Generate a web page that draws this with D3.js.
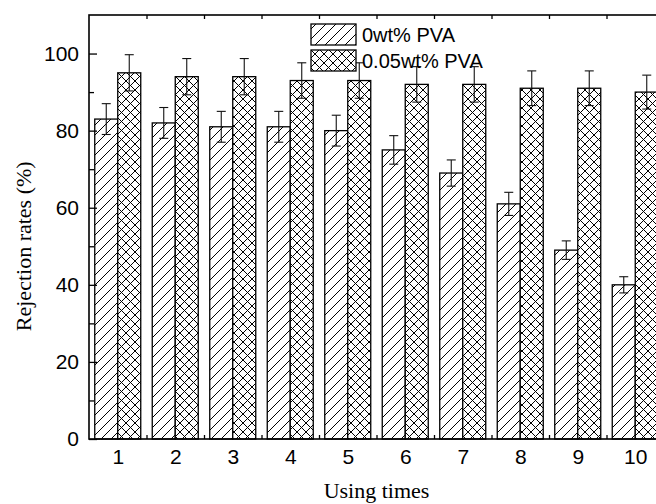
<!DOCTYPE html>
<html>
<head>
<meta charset="utf-8">
<script src="https://cdn.jsdelivr.net/npm/d3@7"></script>
<style>
  body { margin: 0; background: #fff; }
</style>
</head>
<body>
<div id="canvas"></div>
<script>
"use strict"

/* data */
let usingTimes = [1, 2, 3, 4, 5, 6, 7, 8, 9, 10];
let pva0 = [83, 82, 81, 81, 80, 75, 69, 61, 49, 40];
let pva0Err = [4, 4, 4, 4, 4, 3.7, 3.4, 3, 2.4, 2.1];
let pva005 = [95, 94, 94, 93, 93, 92, 92, 91, 91, 90];
let pva005Err = [4.7, 4.7, 4.7, 4.6, 4.6, 4.6, 4.6, 4.5, 4.5, 4.4];
let seriesNames = ["0wt% PVA", "0.05wt% PVA"];
let yTicks = [0, 20, 40, 60, 80, 100];

/* drawing config */
let svgWidth = 656;
let svgHeight = 504;
let plotLeft = 89;
let plotRight = 664;   // the frame runs past the window edge
let plotTop = 15;
let plotBottom = 439;
let barWidth = 23;

let svg = d3.select("#canvas")
    .append("svg")
    .attr("width", svgWidth)
    .attr("height", svgHeight);

svg.append("rect")
    .attr("width", svgWidth)
    .attr("height", svgHeight)
    .attr("fill", "white");

/* hatch patterns */
let defs = svg.append("defs");

let hatch = defs.append("pattern")
    .attr("id", "hatch")
    .attr("patternUnits", "userSpaceOnUse")
    .attr("width", 10)
    .attr("height", 10);
hatch.append("rect").attr("width", 10).attr("height", 10).attr("fill", "white");
hatch.append("path")
    .attr("d", "M-1,1 l2,-2 M0,10 l10,-10 M9,11 l2,-2")
    .attr("stroke", "black")
    .attr("stroke-width", 1)
    .attr("shape-rendering", "crispEdges");

let cross = defs.append("pattern")
    .attr("id", "cross")
    .attr("patternUnits", "userSpaceOnUse")
    .attr("width", 9)
    .attr("height", 9);
cross.append("rect").attr("width", 9).attr("height", 9).attr("fill", "white");
cross.append("path")
    .attr("d", "M-1,1 l2,-2 M0,9 l9,-9 M8,10 l2,-2 M-1,8 l2,2 M0,0 l9,9 M8,-1 l2,2")
    .attr("stroke", "black")
    .attr("stroke-width", 1)
    .attr("shape-rendering", "crispEdges");

/* scales */
let xScale = d3.scaleLinear()
    .domain([0.5, 10.5])
    .range([plotLeft, plotRight]);

let yScale = d3.scaleLinear()
    .domain([0, 110])
    .range([plotBottom, plotTop]);

let data = usingTimes.map(function(t, i) {
    return { t: t, a: pva0[i], aErr: pva0Err[i], b: pva005[i], bErr: pva005Err[i] };
});

/* bars */
svg.selectAll("rect.barA")
    .data(data)
    .join("rect")
    .attr("class", "barA")
    .attr("x", d => xScale(d.t) - barWidth)
    .attr("y", d => yScale(d.a))
    .attr("width", barWidth)
    .attr("height", d => yScale(0) - yScale(d.a))
    .attr("fill", "url(#hatch)")
    .attr("stroke", "black")
    .attr("stroke-width", 1.3);

svg.selectAll("rect.barB")
    .data(data)
    .join("rect")
    .attr("class", "barB")
    .attr("x", d => xScale(d.t))
    .attr("y", d => yScale(d.b))
    .attr("width", barWidth)
    .attr("height", d => yScale(0) - yScale(d.b))
    .attr("fill", "url(#cross)")
    .attr("stroke", "black")
    .attr("stroke-width", 1.3);

/* error bars */
function errorBars(key, errKey, offset) {
    let g = svg.append("g")
        .attr("stroke", "#111")
        .attr("stroke-width", 1.1);
    data.forEach(function(d) {
        let cx = xScale(d.t) + offset;
        let hi = yScale(d[key] + d[errKey]);
        let lo = yScale(d[key] - d[errKey]);
        g.append("line").attr("x1", cx).attr("x2", cx).attr("y1", hi).attr("y2", lo);
        g.append("line").attr("x1", cx - 4.5).attr("x2", cx + 4.5).attr("y1", hi).attr("y2", hi);
        g.append("line").attr("x1", cx - 4.5).attr("x2", cx + 4.5).attr("y1", lo).attr("y2", lo);
    });
}
errorBars("a", "aErr", -barWidth / 2);
errorBars("b", "bErr", barWidth / 2);

/* axes */
let halfTicks = d3.range(1.5, 10.5, 1);

// left axis: minor ticks pointing in
svg.append("g")
    .attr("transform", "translate(" + plotLeft + ",0)")
    .call(d3.axisLeft(yScale).tickValues(d3.range(10, 110, 20)).tickSize(-5).tickFormat(""))
    .call(g => g.select(".domain").remove())
    .call(g => g.selectAll("line").attr("stroke-width", 1.3));

let yAxis = svg.append("g")
    .attr("transform", "translate(" + plotLeft + ",0)")
    .call(d3.axisLeft(yScale).tickValues(yTicks).tickSize(-8).tickPadding(10))
    .call(g => g.select(".domain").remove());
yAxis.selectAll("line").attr("stroke-width", 1.3);
yAxis.selectAll("text")
    .attr("font-family", "Liberation Sans, Arial, sans-serif")
    .attr("font-size", 21)
    .attr("fill", "black");

// bottom axis
svg.append("g")
    .attr("transform", "translate(0," + plotBottom + ")")
    .call(d3.axisBottom(xScale).tickValues(halfTicks).tickSize(-4).tickFormat(""))
    .call(g => g.select(".domain").remove())
    .call(g => g.selectAll("line").attr("stroke-width", 1.3));

let xAxis = svg.append("g")
    .attr("transform", "translate(0," + plotBottom + ")")
    .call(d3.axisBottom(xScale).tickValues(usingTimes).tickSize(0).tickPadding(10).tickFormat(d3.format("d")))
    .call(g => g.select(".domain").remove());
xAxis.selectAll("text")
    .attr("font-family", "Liberation Sans, Arial, sans-serif")
    .attr("font-size", 21)
    .attr("fill", "black");

// top axis (mirror ticks)
svg.append("g")
    .attr("transform", "translate(0," + plotTop + ")")
    .call(d3.axisTop(xScale).tickValues(halfTicks).tickSize(-4).tickFormat(""))
    .call(g => g.select(".domain").remove())
    .call(g => g.selectAll("line").attr("stroke-width", 1.3));

/* frame */
svg.append("rect")
    .attr("x", plotLeft)
    .attr("y", plotTop)
    .attr("width", plotRight - plotLeft)
    .attr("height", plotBottom - plotTop)
    .attr("fill", "none")
    .attr("stroke", "black")
    .attr("stroke-width", 1.6);

/* axis titles */
svg.append("text")
    .attr("x", xScale(5.5))
    .attr("y", 498)
    .attr("text-anchor", "middle")
    .attr("font-family", "Liberation Serif, Times New Roman, serif")
    .attr("font-size", 22)
    .text("Using times");

svg.append("text")
    .attr("transform", "translate(31," + yScale(50) + ") rotate(-90)")
    .attr("text-anchor", "middle")
    .attr("font-family", "Liberation Serif, Times New Roman, serif")
    .attr("font-size", 22)
    .text("Rejection rates (%)");

/* legend */
let legend = [
    { label: seriesNames[0], fill: "url(#hatch)" },
    { label: seriesNames[1], fill: "url(#cross)" }
];

legend.forEach(function(d, i) {
    svg.append("rect")
        .attr("x", 311)
        .attr("y", 24 + i * 26)
        .attr("width", 45)
        .attr("height", 21)
        .attr("fill", d.fill)
        .attr("stroke", "black")
        .attr("stroke-width", 1.3);

    svg.append("text")
        .attr("x", 362)
        .attr("y", 42 + i * 26)
        .attr("font-family", "Liberation Sans, Arial, sans-serif")
        .attr("font-size", 20)
        .text(d.label);
});
</script>
</body>
</html>
